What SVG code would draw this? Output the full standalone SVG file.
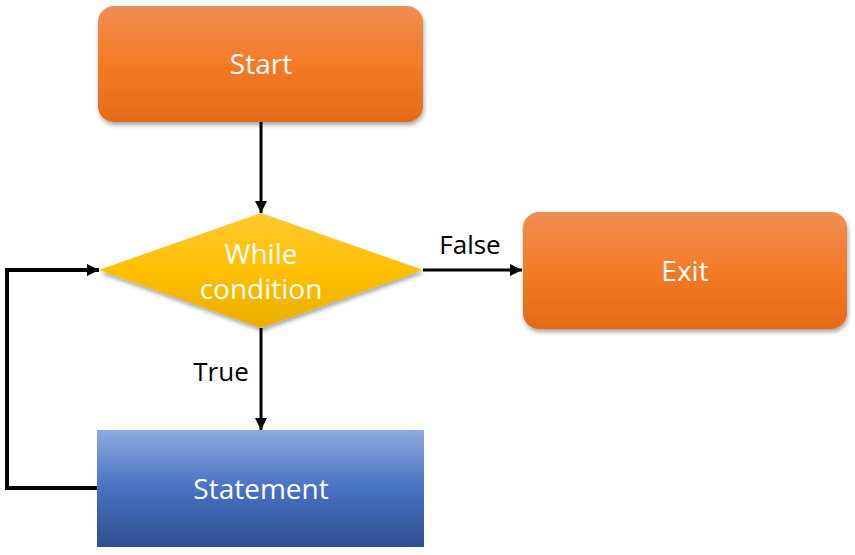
<svg xmlns="http://www.w3.org/2000/svg" width="855" height="555" viewBox="0 0 855 555">
  <defs>
    <linearGradient id="gOrange" x1="0" y1="0" x2="0" y2="1">
      <stop offset="0" stop-color="#F08D55"/>
      <stop offset="0.5" stop-color="#F47B25"/>
      <stop offset="1" stop-color="#E46A17"/>
    </linearGradient>
    <linearGradient id="gYellow" x1="0" y1="0" x2="0" y2="1">
      <stop offset="0" stop-color="#FFC935"/>
      <stop offset="0.5" stop-color="#FFC000"/>
      <stop offset="1" stop-color="#E8AE00"/>
    </linearGradient>
    <linearGradient id="gBlue" x1="0" y1="0" x2="0" y2="1">
      <stop offset="0" stop-color="#8EAADC"/>
      <stop offset="0.5" stop-color="#4672C4"/>
      <stop offset="1" stop-color="#2E4F8F"/>
    </linearGradient>
    <filter id="shadow" x="-10%" y="-10%" width="120%" height="130%">
      <feDropShadow dx="1" dy="3" stdDeviation="2" flood-color="#000" flood-opacity="0.35"/>
    </filter>
    <marker id="arrow" viewBox="0 0 10 10" refX="10" refY="5" markerWidth="4" markerHeight="4" orient="auto" markerUnits="strokeWidth">
      <path d="M0,0 L10,5 L0,10 Z" fill="#000"/>
    </marker>
    <marker id="arrowLoop" viewBox="0 0 10 10" refX="10" refY="5" markerWidth="3" markerHeight="3" orient="auto" markerUnits="strokeWidth">
      <path d="M0,0 L10,5 L0,10 Z" fill="#000"/>
    </marker>
  </defs>
  <style>
    .node-text { font-family: "Open Sans", "Noto Sans", "Liberation Sans", sans-serif; font-size: 28px; fill: #fff; text-anchor: middle; }
    .edge-label { font-family: "Open Sans", "Noto Sans", "Liberation Sans", sans-serif; font-size: 26px; fill: #000; text-anchor: middle; }
    .edge { fill: none; stroke: #000; stroke-width: 3; }
    .edge-loop { fill: none; stroke: #000; stroke-width: 4; }
  </style>

  <g id="connectors">
    <line class="edge" x1="261" y1="122" x2="261" y2="213" marker-end="url(#arrow)"/>
    <line class="edge" x1="261" y1="328" x2="261" y2="430" marker-end="url(#arrow)"/>
    <line class="edge" x1="423" y1="270" x2="522" y2="270" marker-end="url(#arrow)"/>
    <polyline class="edge-loop" points="97,488 7,488 7,270 99,270" marker-end="url(#arrowLoop)"/>
    <text class="edge-label" x="470" y="254">False</text>
    <text class="edge-label" x="221" y="381">True</text>
  </g>

  <g id="start">
    <rect x="98" y="6" width="325" height="116" rx="16" fill="url(#gOrange)" filter="url(#shadow)"/>
    <text class="node-text" x="261" y="74">Start</text>
  </g>

  <g id="condition">
    <polygon points="261,213 423,270 261,328 99,270" fill="url(#gYellow)" filter="url(#shadow)"/>
    <text class="node-text" x="261" y="264">While</text>
    <text class="node-text" x="261" y="299">condition</text>
  </g>

  <g id="exit">
    <rect x="523" y="212" width="324" height="117" rx="16" fill="url(#gOrange)" filter="url(#shadow)"/>
    <text class="node-text" x="685" y="281">Exit</text>
  </g>

  <g id="statement">
    <rect x="97" y="430" width="327" height="117" fill="url(#gBlue)"/>
    <text class="node-text" x="261" y="499">Statement</text>
  </g>
</svg>
